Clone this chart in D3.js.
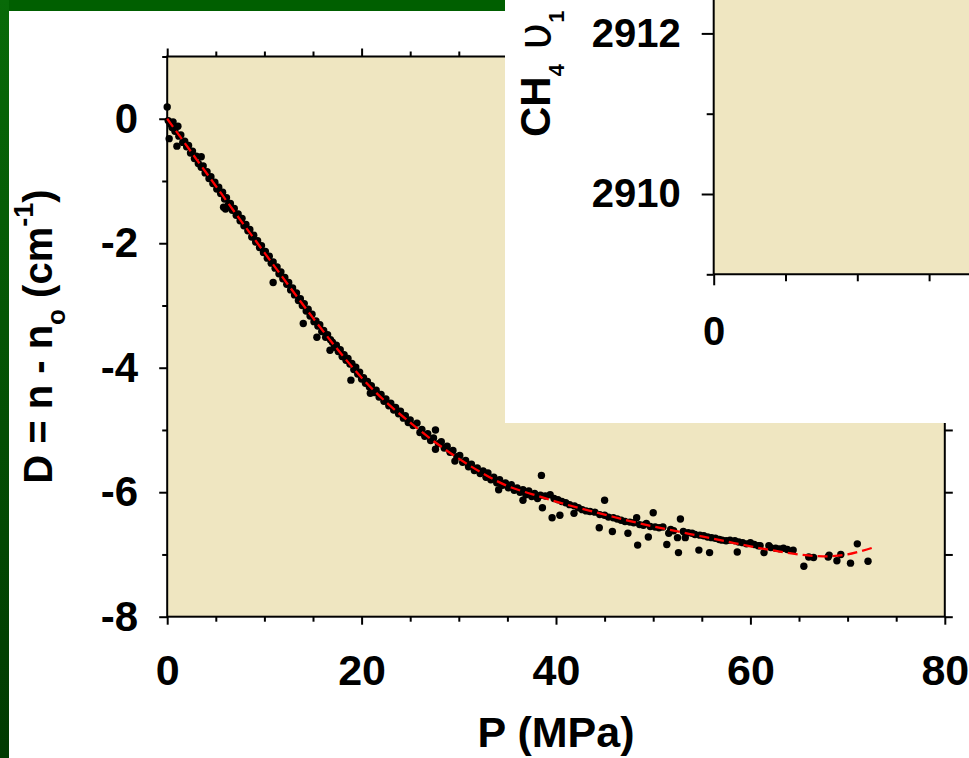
<!DOCTYPE html>
<html>
<head>
<meta charset="utf-8">
<script src="https://cdn.jsdelivr.net/npm/d3@7"></script>
<style>
  html, body { margin: 0; padding: 0; background: #fff; }
  svg { display: block; }
  text { font-family: "Liberation Sans", Arial, Helvetica, sans-serif; font-weight: bold; fill: #000; }
</style>
</head>
<body>
<svg id="chart" width="969" height="758"></svg>
<script>
// Raman shift of the CH4 v1 band versus pressure: measured points and fitted curve
const fitPressure = [0, 2.5, 5, 7.5, 10, 12.5, 15, 17.5, 20, 22.5, 25, 27.5, 30, 32.5, 35,
  37.5, 40, 42.5, 45, 47.5, 50, 52.5, 55, 57.5, 60, 62.5, 65, 67.5, 70, 72.6];
const fitShift = [0, -0.54, -1.08, -1.62, -2.15, -2.68, -3.2, -3.7, -4.16, -4.55, -4.88, -5.19,
  -5.46, -5.7, -5.9, -6.03, -6.15, -6.26, -6.36, -6.46, -6.55, -6.63, -6.71, -6.79, -6.87,
  -6.94, -7.0, -7.03, -7.0, -6.89];

// measured [P (MPa), D (cm-1)]
const measured = [
  [0.0,0.19],[0.1,-0.03],[0.2,-0.32],[0.3,-0.08],[0.5,-0.14],[0.6,-0.05],[0.8,-0.2],[1.0,-0.44],
  [1.1,-0.12],[1.2,-0.28],[1.4,-0.26],[1.6,-0.38],[1.8,-0.36],[2.0,-0.45],[2.2,-0.43],[2.4,-0.55],
  [2.6,-0.52],[2.8,-0.64],[3.0,-0.6],[3.2,-0.72],[3.5,-0.61],[3.5,-0.78],[3.7,-0.76],[3.9,-0.87],
  [4.1,-0.85],[4.3,-0.96],[4.5,-0.93],[4.7,-1.04],[4.9,-1.02],
  [5.1,-1.13],[5.3,-1.1],[5.5,-1.2],[5.7,-1.18],[5.8,-1.42],[6.0,-1.45],[5.9,-1.29],[6.1,-1.27],
  [6.3,-1.38],[6.5,-1.36],[6.7,-1.47],[6.9,-1.44],[7.1,-1.55],[7.3,-1.53],[7.5,-1.64],[7.7,-1.6],
  [7.9,-1.72],[8.1,-1.7],[8.3,-1.8],[8.5,-1.78],[8.7,-1.9],[8.9,-1.87],[9.1,-1.98],[9.3,-1.96],
  [9.5,-2.07],[9.7,-2.04],[9.9,-2.15],
  [10.1,-2.13],[10.3,-2.24],[10.5,-2.21],[10.7,-2.32],[10.9,-2.63],[10.9,-2.3],[11.1,-2.4],
  [11.3,-2.38],[11.5,-2.49],[11.7,-2.46],[11.9,-2.57],[12.1,-2.55],[12.3,-2.66],[12.5,-2.63],
  [12.7,-2.75],[12.9,-2.72],[13.1,-2.83],[13.3,-2.8],[13.5,-2.92],[13.7,-2.89],[13.9,-3.0],
  [14.0,-3.29],[14.1,-2.97],[14.3,-3.09],[14.5,-3.06],[14.7,-3.17],[14.9,-3.14],
  [15.1,-3.26],[15.3,-3.25],[15.4,-3.51],[15.5,-3.33],[15.7,-3.31],[15.9,-3.42],[16.1,-3.4],
  [16.3,-3.51],[16.5,-3.47],[16.75,-3.72],[16.8,-3.55],[17.0,-3.59],[17.2,-3.67],[17.4,-3.64],
  [17.6,-3.74],[17.8,-3.71],[18.0,-3.82],[18.2,-3.79],[18.4,-3.88],[18.6,-3.85],[18.9,-4.2],
  [18.8,-3.94],[19.0,-3.93],[19.2,-4.03],[19.4,-3.99],[19.6,-4.1],[19.8,-4.07],[20.0,-4.18],
  [20.2,-4.16],[20.4,-4.25],[20.6,-4.22],[20.9,-4.41],[20.8,-4.31],[21.0,-4.29],[21.3,-4.4],
  [21.5,-4.36],[21.8,-4.47],[22.0,-4.43],[22.3,-4.54],[22.5,-4.5],[22.8,-4.61],[23.0,-4.57],
  [23.3,-4.68],[23.5,-4.64],[23.8,-4.74],[24.0,-4.7],[24.3,-4.81],[24.5,-4.77],[24.8,-4.88],
  [25.0,-4.84],
  [25.3,-4.93],[25.7,-4.89],[26.0,-5.04],[26.2,-4.99],[26.5,-5.1],[26.8,-5.06],[27.1,-5.17],
  [27.4,-5.13],[27.6,-5.0],[27.6,-5.31],[27.9,-5.22],[28.2,-5.19],[28.5,-5.29],[28.8,-5.26],
  [29.1,-5.36],[29.4,-5.33],[29.6,-5.5],[29.8,-5.43],[30.1,-5.41],
  [30.4,-5.52],[30.7,-5.49],[31.0,-5.59],[31.3,-5.55],[31.6,-5.65],[31.9,-5.61],[32.2,-5.7],
  [32.5,-5.66],[32.8,-5.76],[33.0,-5.69],[33.3,-5.8],[33.6,-5.76],[33.9,-5.85],[34.1,-5.96],
  [34.2,-5.8],[34.5,-5.89],[34.8,-5.85],[35.1,-5.93],[35.4,-5.88],[35.7,-5.97],[36.0,-5.93],
  [36.3,-6.0],[36.6,-6.13],[36.6,-5.96],[36.9,-6.04],[37.2,-5.98],[37.5,-6.07],[37.8,-6.02],
  [38.1,-6.1],
  [38.4,-6.05],[38.5,-5.73],[38.6,-6.25],[38.9,-6.06],[39.4,-6.04],[39.6,-6.41],[39.8,-6.1],
  [40.2,-6.12],[40.4,-6.37],[40.6,-6.15],[41.0,-6.17],[41.4,-6.2],[41.85,-6.34],[41.9,-6.22],
  [42.3,-6.25],[42.7,-6.28],[43.1,-6.3],[43.5,-6.31],[44.0,-6.32],[44.45,-6.57],[44.5,-6.36],
  [45.0,-6.13],[45.0,-6.37],[45.4,-6.4],[45.8,-6.63],[45.9,-6.41],[46.3,-6.43],[46.7,-6.45],
  [47.1,-6.47],[47.4,-6.66],[47.6,-6.48],[48.0,-6.49],[48.3,-6.41],[48.4,-6.85],[48.6,-6.52],
  [49.0,-6.53],[49.3,-6.5],[49.5,-6.72],[49.7,-6.55],[50.0,-6.33],[50.2,-6.56],[50.6,-6.57],
  [51.0,-6.56],[51.4,-6.84],[51.6,-6.66],[51.8,-6.6],[52.1,-6.62],[52.5,-6.73],[52.6,-6.97],
  [52.8,-6.43],[53.1,-6.63],[53.3,-6.73],[53.6,-6.65],[54.0,-6.66],[54.3,-6.68],[54.7,-6.93],
  [54.8,-6.69],[55.2,-6.7],[55.8,-6.97],[55.6,-6.72],[56.0,-6.73],[56.4,-6.74],[56.8,-6.76],
  [57.1,-6.77],
  [57.5,-6.78],[57.9,-6.77],[58.4,-6.78],[58.65,-6.96],[58.8,-6.8],[59.2,-6.81],[59.6,-6.83],
  [60.0,-6.81],[60.4,-6.84],[60.8,-6.86],[61.0,-6.86],[61.4,-6.97],[61.9,-6.86],[62.1,-6.89],
  [62.6,-6.9],[63.0,-6.91],[63.4,-6.9],[63.8,-6.92],[64.4,-6.93],
  [65.5,-7.19],[66.0,-7.04],[66.5,-7.05],[68.0,-7.04],[68.1,-7.01],[68.9,-7.1],[69.3,-7.0],
  [70.3,-7.14],[71.0,-6.83],[72.1,-7.11]
];

// main axis ticks
const xMajorTicks = [0, 20, 40, 60, 80];
const xMinorTicks = [5, 10, 15, 25, 30, 35, 45, 50, 55, 65, 70, 75];
const yMajorTicks = [-8, -6, -4, -2, 0];
const yMinorTicks = [-7, -5, -3, -1, 1];
const yRightTicks = [-8, -7, -6, -5, -4, -3, -2, -1, 0, 1];

// inset axis ticks
const insetYMajorTicks = [2910, 2912];
const insetYMinorTicks = [2909, 2911];
const insetXMajorTicks = [0];
const insetXMinorTicks = [5, 10, 15];

const TAN = "#efe6c1";
const W = 969, H = 758;
const svg = d3.select("#chart");

svg.append("rect").attr("width", W).attr("height", H).attr("fill", "#fff");

// green slide frame
const defs = svg.append("defs");
const grad = defs.append("linearGradient").attr("id", "frameGreen")
  .attr("x1", 0).attr("y1", 0).attr("x2", 0).attr("y2", 1);
grad.append("stop").attr("offset", "0%").attr("stop-color", "#086a08");
grad.append("stop").attr("offset", "100%").attr("stop-color", "#013a01");
svg.append("rect").attr("x", 0).attr("y", 0).attr("width", 505).attr("height", 11).attr("fill", "#005f00");
svg.append("rect").attr("x", 0).attr("y", 0).attr("width", 9).attr("height", H).attr("fill", "url(#frameGreen)");

function styleAxis(g, fontSize) {
  g.attr("font-family", null).attr("font-size", null);
  g.select(".domain").remove();
  g.selectAll(".tick line").attr("stroke", "#000").attr("stroke-width", 2);
  g.selectAll(".tick text").style("font-size", fontSize + "px");
  return g;
}
const label = d => String(d);

// ---------- main chart ----------
const x = d3.scaleLinear().domain([0, 80]).range([167.2, 944.8]);
const y = d3.scaleLinear().domain([-8, 1]).range([616.7, 56.5]);
const main = svg.append("g");

main.append("rect")
  .attr("x", x(0)).attr("y", y(1))
  .attr("width", x(80) - x(0)).attr("height", y(-8) - y(1))
  .attr("fill", TAN);

// ticks
styleAxis(main.append("g").attr("transform", `translate(${x(0)},0)`)
  .call(d3.axisLeft(y).tickValues(yMajorTicks).tickSize(8).tickPadding(21).tickFormat(label)), 42);
styleAxis(main.append("g").attr("transform", `translate(${x(0)},0)`)
  .call(d3.axisLeft(y).tickValues(yMinorTicks).tickSize(5).tickFormat("")), 42);
styleAxis(main.append("g").attr("transform", `translate(${x(80)},0)`)
  .call(d3.axisRight(y).tickValues(yRightTicks).tickSize(8).tickFormat("")), 42);
styleAxis(main.append("g").attr("transform", `translate(0,${y(-8)})`)
  .call(d3.axisBottom(x).tickValues(xMajorTicks).tickSize(8).tickPadding(30).tickFormat(label)), 43);
styleAxis(main.append("g").attr("transform", `translate(0,${y(-8)})`)
  .call(d3.axisBottom(x).tickValues(xMinorTicks).tickSize(5).tickFormat("")), 43);
styleAxis(main.append("g").attr("transform", `translate(0,${y(1)})`)
  .call(d3.axisTop(x).tickValues(xMajorTicks).tickSize(8).tickFormat("")), 43);
styleAxis(main.append("g").attr("transform", `translate(0,${y(1)})`)
  .call(d3.axisTop(x).tickValues(xMinorTicks).tickSize(5).tickFormat("")), 43);

// frame lines
const frame = main.append("g").attr("stroke", "#000").attr("stroke-width", 2).attr("fill", "none");
frame.append("rect").attr("x", x(0)).attr("y", y(1))
  .attr("width", x(80) - x(0)).attr("height", y(-8) - y(1));

// measured points
main.append("g").selectAll("circle").data(measured).join("circle")
  .attr("cx", d => x(d[0])).attr("cy", d => y(d[1]))
  .attr("r", 3.7).attr("fill", "#000");

// fitted curve
const fitPts = fitPressure.map((p, i) => [p, fitShift[i]]);
main.append("path").datum(fitPts)
  .attr("d", d3.line().x(d => x(d[0])).y(d => y(d[1])).curve(d3.curveCatmullRom))
  .attr("fill", "none").attr("stroke", "#ff0000").attr("stroke-width", 2.3)
  .attr("stroke-dasharray", "10,5");

// axis titles
main.append("text")
  .attr("x", (x(0) + x(80)) / 2).attr("y", 747)
  .attr("text-anchor", "middle").style("font-size", "43px")
  .text("P (MPa)");

const yTitle = main.append("text")
  .attr("transform", `translate(52,${(y(1) + y(-8)) / 2}) rotate(-90)`)
  .attr("text-anchor", "middle").style("font-size", "40px");
yTitle.append("tspan").text("D = n - n");
yTitle.append("tspan").attr("dy", 13).style("font-size", "26px").text("o");
yTitle.append("tspan").attr("dy", -13).text(" (cm");
yTitle.append("tspan").attr("dy", -19).style("font-size", "27px").text("-1");
yTitle.append("tspan").attr("dy", 19).text(")");

// ---------- inset ----------
svg.append("rect").attr("x", 505).attr("y", 0).attr("width", W - 505).attr("height", 423).attr("fill", "#fff");

const xi = d3.scaleLinear().domain([0, 20]).range([713.7, 1000.9]);
const yi = d3.scaleLinear().domain([2909, 2912]).range([274.3, 33.4]);
const inset = svg.append("g");

inset.append("rect")
  .attr("x", xi(0)).attr("y", 0)
  .attr("width", W - xi(0)).attr("height", yi(2909))
  .attr("fill", TAN);

styleAxis(inset.append("g").attr("transform", `translate(${xi(0)},0)`)
  .call(d3.axisLeft(yi).tickValues(insetYMajorTicks).tickSize(12).tickPadding(21).tickFormat(label)), 40);
styleAxis(inset.append("g").attr("transform", `translate(${xi(0)},0)`)
  .call(d3.axisLeft(yi).tickValues(insetYMinorTicks).tickSize(7).tickFormat("")), 40);
styleAxis(inset.append("g").attr("transform", `translate(0,${yi(2909)})`)
  .call(d3.axisBottom(xi).tickValues(insetXMajorTicks).tickSize(11).tickPadding(31).tickFormat(label)), 40);
styleAxis(inset.append("g").attr("transform", `translate(0,${yi(2909)})`)
  .call(d3.axisBottom(xi).tickValues(insetXMinorTicks).tickSize(7).tickFormat("")), 40);

const iframe = inset.append("g").attr("stroke", "#000").attr("stroke-width", 2);
iframe.append("line").attr("x1", xi(0)).attr("x2", xi(0)).attr("y1", 0).attr("y2", yi(2909));
iframe.append("line").attr("x1", xi(0)).attr("x2", W).attr("y1", yi(2909)).attr("y2", yi(2909));

const iTitle = inset.append("text")
  .attr("transform", "translate(550,137) rotate(-90)")
  .attr("text-anchor", "start").style("font-size", "42px");
iTitle.append("tspan").text("CH");
iTitle.append("tspan").attr("dy", 14).style("font-size", "22px").text("4");
iTitle.append("tspan").attr("dy", -14).style("font-weight", "normal").style("font-size", "46px")
  .style("font-family", "'DejaVu Sans', sans-serif").text(" υ");
iTitle.append("tspan").attr("dy", 14).style("font-size", "22px").text("1");
</script>
</body>
</html>
